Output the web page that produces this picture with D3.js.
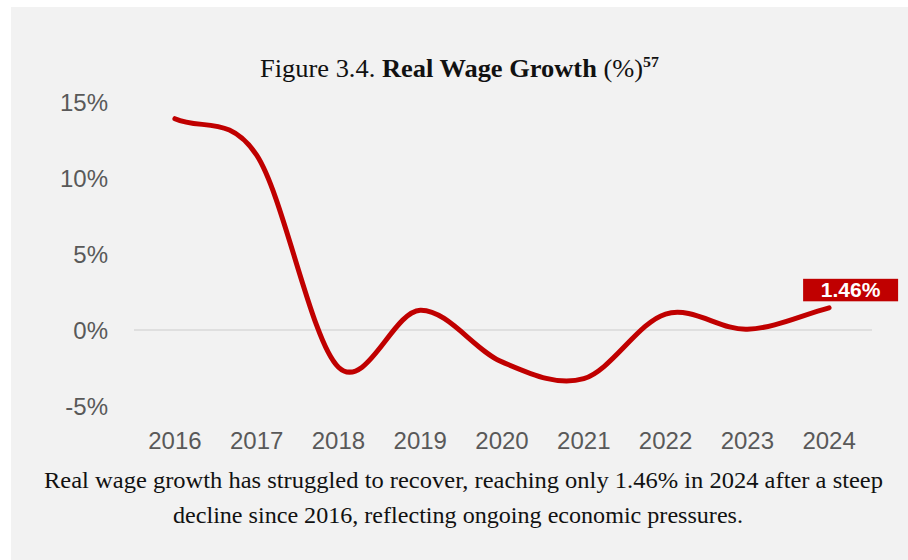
<!DOCTYPE html>
<html><head><meta charset="utf-8">
<script src="https://cdn.jsdelivr.net/npm/d3@7"></script>
<style>html,body{margin:0;padding:0;background:#fff;}svg{display:block;}</style>
</head><body>
<svg id="chart" width="908" height="560"></svg>
<script>
const years = ["2016","2017","2018","2019","2020","2021","2022","2023","2024"];
const wageGrowth = [13.9, 11.5, -2.45, 1.3, -2.1, -3.2, 1.05, 0.05, 1.46];
const yTicks = [-5, 0, 5, 10, 15];
const titleParts = [
  {t: "Figure 3.4. ", w: "normal"},
  {t: "Real Wage Growth", w: "bold"},
  {t: " (%)", w: "normal"}
];
const titleSup = "57";
const captionLines = [
  "Real wage growth has struggled to recover, reaching only 1.46% in 2024 after a steep",
  "decline since 2016, reflecting ongoing economic pressures."
];
const endLabel = "1.46%";

// Spreadsheet-style smooth curve (Catmull-Rom interior, 1/3 chord at the ends)
function SmoothCurve(context) { this._context = context; }
SmoothCurve.prototype = {
  areaStart() { this._line = 0; },
  areaEnd() { this._line = NaN; },
  lineStart() { this._pts = []; },
  point(x, y) { this._pts.push([+x, +y]); },
  lineEnd() {
    const p = this._pts, n = p.length, c = this._context;
    if (!n) return;
    c.moveTo(p[0][0], p[0][1]);
    if (n === 1) return;
    const tan = i => {
      if (i === 0) return [(p[1][0] - p[0][0]) / 3, (p[1][1] - p[0][1]) / 3];
      if (i === n - 1) return [(p[n-1][0] - p[n-2][0]) / 3, (p[n-1][1] - p[n-2][1]) / 3];
      return [(p[i+1][0] - p[i-1][0]) / 6, (p[i+1][1] - p[i-1][1]) / 6];
    };
    for (let i = 0; i < n - 1; i++) {
      const a = tan(i), b = tan(i + 1);
      c.bezierCurveTo(p[i][0] + a[0], p[i][1] + a[1], p[i+1][0] - b[0], p[i+1][1] - b[1], p[i+1][0], p[i+1][1]);
    }
  }
};
const curveSmooth = ctx => new SmoothCurve(ctx);

const svg = d3.select("#chart");
svg.append("rect").attr("x", 11).attr("y", 7).attr("width", 897).attr("height", 553).attr("fill", "#f2f2f2");

const x = d3.scaleBand().domain(years).range([134, 870]);
const xc = d => x(d) + x.bandwidth() / 2;
const y = d3.scaleLinear().domain([-5, 15]).range([406, 102]);

// zero gridline
svg.append("line").attr("x1", 134).attr("x2", 872).attr("y1", y(0)).attr("y2", y(0))
  .attr("stroke", "#d9d9d9").attr("stroke-width", 1.5);

// y axis labels
const yAxis = d3.axisLeft(y).tickValues(yTicks).tickSize(0).tickPadding(0).tickFormat(d => d + "%");
const gy = svg.append("g").attr("transform", "translate(108,0)").call(yAxis);
gy.select(".domain").remove();
gy.selectAll("text").attr("font-family", "Liberation Sans, Arial, sans-serif")
  .attr("font-size", 24).attr("fill", "#595959").attr("dy", "0.35em");

// x axis labels
const xAxis = d3.axisBottom(x).tickSize(0).tickPadding(0);
const gx = svg.append("g").attr("transform", "translate(0,441)").call(xAxis);
gx.select(".domain").remove();
gx.selectAll("text").attr("font-family", "Liberation Sans, Arial, sans-serif")
  .attr("font-size", 24).attr("fill", "#595959").attr("dy", "0.35em");

// line
const line = d3.line().x((d, i) => xc(years[i])).y(d => y(d)).curve(curveSmooth);
svg.append("path").datum(wageGrowth).attr("d", line).attr("fill", "none")
  .attr("stroke", "#c00000").attr("stroke-width", 5).attr("stroke-linecap", "round");

// end label
const lastX = xc(years[years.length - 1]);
const lastY = y(wageGrowth[wageGrowth.length - 1]);
svg.append("rect").attr("x", lastX - 26).attr("y", lastY - 29).attr("width", 95).attr("height", 22.5).attr("fill", "#c00000");
svg.append("text").attr("x", lastX + 21.5).attr("y", lastY - 11)
  .attr("text-anchor", "middle").attr("font-family", "Liberation Sans, Arial, sans-serif")
  .attr("font-weight", "bold").attr("font-size", 21).attr("fill", "#ffffff").text(endLabel);

// title
const title = svg.append("text").attr("x", 459.5).attr("y", 77).attr("text-anchor", "middle")
  .attr("font-family", "Liberation Serif, Times New Roman, serif").attr("font-size", 25).attr("fill", "#111")
  .attr("textLength", 399).attr("lengthAdjust", "spacingAndGlyphs");
titleParts.forEach(p => title.append("tspan").attr("font-weight", p.w).text(p.t));
title.append("tspan").attr("font-size", 15).attr("dy", -10).attr("font-weight", "bold").text(titleSup);

// caption
const capY = [488, 523];
const capW = [839, 570];
const capX = [463.5, 458];
captionLines.forEach((c, i) => {
  svg.append("text").attr("x", capX[i]).attr("y", capY[i]).attr("text-anchor", "middle")
    .attr("font-family", "Liberation Serif, Times New Roman, serif").attr("font-size", 23).attr("fill", "#111")
    .attr("textLength", capW[i]).attr("lengthAdjust", "spacingAndGlyphs").text(c);
});
</script>
</body></html>
